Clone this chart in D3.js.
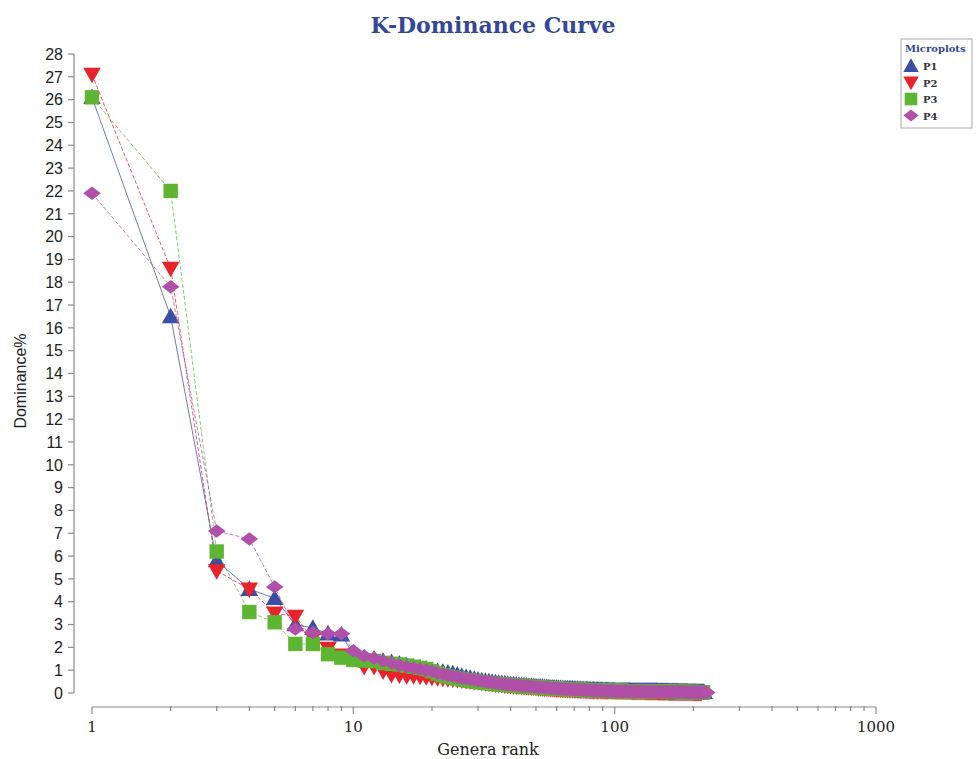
<!DOCTYPE html>
<html>
<head>
<meta charset="utf-8">
<script src="https://cdn.jsdelivr.net/npm/d3@7"></script>
<style>
	body { margin: 0; background: #fff; }
</style>
</head>
<body>
<div id="chart"></div>
<script>
// Dominance% per genus rank (rank = index + 1)
const p1Values = [
	26.1, 16.5, 5.8, 4.55, 4.15, 3.0, 2.85, 2.6, 2.55, 1.7,
	1.55, 1.5, 1.4, 1.35, 1.28, 1.2, 1.15, 1.1, 1.05, 1.0,
	0.95, 0.92, 0.88, 0.85, 0.8, 0.74, 0.69, 0.65, 0.61, 0.58,
	0.55, 0.52, 0.5, 0.48, 0.46, 0.44, 0.42, 0.41, 0.39, 0.38,
	0.37, 0.36, 0.35, 0.34, 0.33, 0.32, 0.31, 0.3, 0.29, 0.28,
	0.27, 0.27, 0.26, 0.25, 0.25, 0.24, 0.23, 0.23, 0.22, 0.22,
	0.21, 0.21, 0.2, 0.2, 0.19, 0.19, 0.18, 0.18, 0.18, 0.17,
	0.17, 0.17, 0.16, 0.16, 0.16, 0.15, 0.15, 0.15, 0.15, 0.14,
	0.14, 0.14, 0.14, 0.13, 0.13, 0.13, 0.13, 0.13, 0.12, 0.12,
	0.12, 0.12, 0.12, 0.12, 0.12, 0.11, 0.11, 0.11, 0.11, 0.11,
	0.1, 0.1, 0.1, 0.1, 0.1, 0.1, 0.1, 0.1, 0.1, 0.1, 0.1, 0.1, 0.1, 0.1, 0.1,
	0.09, 0.09, 0.09, 0.09, 0.09, 0.09, 0.09, 0.09, 0.09, 0.09, 0.09, 0.09, 0.09, 0.09, 0.09,
	0.08, 0.08, 0.08, 0.08, 0.08, 0.08, 0.08, 0.08, 0.08, 0.08, 0.08, 0.08, 0.08, 0.08, 0.08,
	0.07, 0.07, 0.07, 0.07, 0.07, 0.07, 0.07, 0.07, 0.07, 0.07, 0.07, 0.07, 0.07, 0.07, 0.07,
	0.06, 0.06, 0.06, 0.06, 0.06, 0.06, 0.06, 0.06, 0.06, 0.06, 0.06, 0.06, 0.06, 0.06, 0.06,
	0.05, 0.05, 0.05, 0.05, 0.05, 0.05, 0.05, 0.05, 0.05, 0.05, 0.05, 0.05, 0.05, 0.05, 0.05,
	0.04, 0.04, 0.04, 0.04, 0.04, 0.04, 0.04, 0.04, 0.04, 0.04, 0.04, 0.04, 0.04, 0.04, 0.04,
	0.03, 0.03, 0.03, 0.03, 0.03, 0.03, 0.03, 0.03, 0.03, 0.03, 0.03, 0.03, 0.03, 0.03, 0.03
];

const p2Values = [
	27.1, 18.6, 5.35, 4.55, 3.5, 3.35, 2.4, 1.95, 1.65, 1.5,
	1.15, 1.15, 0.95, 0.8, 0.78, 0.75, 0.75, 0.72, 0.7, 0.68,
	0.66, 0.64, 0.62, 0.6, 0.58, 0.56, 0.54, 0.52, 0.5, 0.48,
	0.46, 0.44, 0.42, 0.4, 0.38, 0.37, 0.36, 0.34, 0.33, 0.32,
	0.31, 0.3, 0.29, 0.28, 0.27, 0.26, 0.25, 0.24, 0.24, 0.23,
	0.22, 0.22, 0.21, 0.2, 0.2, 0.19, 0.19, 0.18, 0.18, 0.17,
	0.17, 0.16, 0.16, 0.15, 0.15, 0.15, 0.14, 0.14, 0.14, 0.13,
	0.13, 0.13, 0.12, 0.12, 0.12, 0.12, 0.11, 0.11, 0.11, 0.11,
	0.1, 0.1, 0.1, 0.1, 0.1, 0.1, 0.1, 0.1, 0.1, 0.1,
	0.09, 0.09, 0.09, 0.09, 0.09, 0.09, 0.09, 0.09, 0.09, 0.09,
	0.08, 0.08, 0.08, 0.08, 0.08, 0.08, 0.08, 0.08, 0.08, 0.08, 0.08, 0.08, 0.08, 0.08, 0.08,
	0.07, 0.07, 0.07, 0.07, 0.07, 0.07, 0.07, 0.07, 0.07, 0.07, 0.07, 0.07, 0.07, 0.07, 0.07,
	0.06, 0.06, 0.06, 0.06, 0.06, 0.06, 0.06, 0.06, 0.06, 0.06, 0.06, 0.06, 0.06, 0.06, 0.06,
	0.05, 0.05, 0.05, 0.05, 0.05, 0.05, 0.05, 0.05, 0.05, 0.05, 0.05, 0.05, 0.05, 0.05, 0.05,
	0.04, 0.04, 0.04, 0.04, 0.04, 0.04, 0.04, 0.04, 0.04, 0.04, 0.04, 0.04, 0.04, 0.04, 0.04, 0.04, 0.04, 0.04, 0.04, 0.04,
	0.03, 0.03, 0.03, 0.03, 0.03, 0.03, 0.03, 0.03, 0.03, 0.03, 0.03, 0.03, 0.03, 0.03, 0.03, 0.03, 0.03, 0.03, 0.03, 0.03,
	0.02, 0.02, 0.02, 0.02, 0.02, 0.02, 0.02, 0.02, 0.02, 0.02, 0.02, 0.02, 0.02, 0.02, 0.02
];

const p3Values = [
	26.1, 22.0, 6.2, 3.55, 3.1, 2.15, 2.15, 1.7, 1.55, 1.45,
	1.42, 1.4, 1.32, 1.28, 1.25, 1.2, 1.15, 1.1, 1.05, 0.95,
	0.85, 0.78, 0.72, 0.68, 0.64, 0.6, 0.57, 0.54, 0.51, 0.49,
	0.47, 0.45, 0.43, 0.41, 0.4, 0.38, 0.37, 0.36, 0.35, 0.34,
	0.33, 0.32, 0.31, 0.3, 0.29, 0.28, 0.27, 0.26, 0.26, 0.25,
	0.24, 0.24, 0.23, 0.22, 0.22, 0.21, 0.21, 0.2, 0.2, 0.19,
	0.19, 0.18, 0.18, 0.17, 0.17, 0.16, 0.16, 0.16, 0.15, 0.15,
	0.15, 0.14, 0.14, 0.14, 0.13, 0.13, 0.13, 0.13, 0.12, 0.12,
	0.12, 0.12, 0.11, 0.11, 0.11, 0.11, 0.11, 0.1, 0.1, 0.1,
	0.1, 0.1, 0.1,
	0.09, 0.09, 0.09, 0.09, 0.09, 0.09, 0.09, 0.09, 0.09, 0.09, 0.09, 0.09, 0.09, 0.09, 0.09,
	0.08, 0.08, 0.08, 0.08, 0.08, 0.08, 0.08, 0.08, 0.08, 0.08, 0.08, 0.08, 0.08, 0.08, 0.08,
	0.07, 0.07, 0.07, 0.07, 0.07, 0.07, 0.07, 0.07, 0.07, 0.07, 0.07, 0.07, 0.07, 0.07, 0.07,
	0.06, 0.06, 0.06, 0.06, 0.06, 0.06, 0.06, 0.06, 0.06, 0.06, 0.06, 0.06, 0.06, 0.06, 0.06, 0.06, 0.06, 0.06, 0.06, 0.06,
	0.05, 0.05, 0.05, 0.05, 0.05, 0.05, 0.05, 0.05, 0.05, 0.05, 0.05, 0.05, 0.05, 0.05, 0.05, 0.05, 0.05, 0.05, 0.05, 0.05,
	0.04, 0.04, 0.04, 0.04, 0.04, 0.04, 0.04, 0.04, 0.04, 0.04, 0.04, 0.04, 0.04, 0.04, 0.04, 0.04, 0.04, 0.04, 0.04, 0.04,
	0.03, 0.03, 0.03, 0.03, 0.03, 0.03, 0.03, 0.03, 0.03, 0.03, 0.03, 0.03, 0.03, 0.03, 0.03, 0.03, 0.03, 0.03, 0.03, 0.03
];

const p4Values = [
	21.9, 17.8, 7.1, 6.75, 4.65, 2.8, 2.65, 2.6, 2.6, 1.85,
	1.62, 1.52, 1.4, 1.32, 1.22, 1.15, 1.1, 1.05, 1.0, 0.95,
	0.88, 0.82, 0.78, 0.74, 0.7, 0.66, 0.63, 0.6, 0.57, 0.55,
	0.52, 0.5, 0.48, 0.46, 0.44, 0.42, 0.4, 0.39, 0.37, 0.36,
	0.35, 0.34, 0.33, 0.32, 0.31, 0.3, 0.29, 0.28, 0.27, 0.26,
	0.25, 0.25, 0.24, 0.23, 0.23, 0.22, 0.21, 0.21, 0.2, 0.2,
	0.19, 0.19, 0.18, 0.18, 0.17, 0.17, 0.16, 0.16, 0.15, 0.15,
	0.15, 0.14, 0.14, 0.14, 0.13, 0.13, 0.13, 0.12, 0.12, 0.12,
	0.12, 0.11, 0.11, 0.11, 0.11, 0.1, 0.1, 0.1, 0.1, 0.1,
	0.09, 0.09, 0.09, 0.09, 0.09, 0.09, 0.09, 0.09, 0.09, 0.09,
	0.08, 0.08, 0.08, 0.08, 0.08, 0.08, 0.08, 0.08, 0.08, 0.08, 0.08, 0.08, 0.08, 0.08, 0.08,
	0.07, 0.07, 0.07, 0.07, 0.07, 0.07, 0.07, 0.07, 0.07, 0.07, 0.07, 0.07, 0.07, 0.07, 0.07,
	0.06, 0.06, 0.06, 0.06, 0.06, 0.06, 0.06, 0.06, 0.06, 0.06, 0.06, 0.06, 0.06, 0.06, 0.06,
	0.05, 0.05, 0.05, 0.05, 0.05, 0.05, 0.05, 0.05, 0.05, 0.05, 0.05, 0.05, 0.05, 0.05, 0.05, 0.05, 0.05, 0.05, 0.05, 0.05,
	0.04, 0.04, 0.04, 0.04, 0.04, 0.04, 0.04, 0.04, 0.04, 0.04, 0.04, 0.04, 0.04, 0.04, 0.04, 0.04, 0.04, 0.04, 0.04, 0.04,
	0.03, 0.03, 0.03, 0.03, 0.03, 0.03, 0.03, 0.03, 0.03, 0.03, 0.03, 0.03, 0.03, 0.03, 0.03, 0.03, 0.03, 0.03, 0.03, 0.03,
	0.02, 0.02, 0.02, 0.02, 0.02, 0.02, 0.02, 0.02, 0.02, 0.02, 0.02, 0.02, 0.02, 0.02, 0.02, 0.02, 0.02, 0.02, 0.02, 0.02
];

const seriesNames = ['P1', 'P2', 'P3', 'P4'];
const seriesColors = ['#3b4ea6', '#e8232b', '#5db531', '#b050a8'];
const yTicks = d3.range(0, 29);
const xTicks = [1, 10, 100, 1000];

const width = 976;
const height = 759;

const series = [p1Values, p2Values, p3Values, p4Values].map((vals, i) => ({
	name: seriesNames[i],
	color: seriesColors[i],
	points: vals.map((v, j) => ({ rank: j + 1, value: v }))
}));

const x = d3.scaleLog().domain([1, 1000]).range([92, 876]);
const y = d3.scaleLinear().domain([0, 28]).range([693, 54]);

const svg = d3
	.select('#chart')
	.append('svg')
	.attr('width', width)
	.attr('height', height);

// marker shapes per series
function markerPath(name, s) {
	if (name === 'P1') return `M0,${-s * 0.55}L${s * 0.55},${s * 0.42}L${-s * 0.55},${s * 0.42}Z`;
	if (name === 'P2') return `M0,${s * 0.55}L${s * 0.55},${-s * 0.42}L${-s * 0.55},${-s * 0.42}Z`;
	if (name === 'P3') return `M${-s * 0.45},${-s * 0.45}H${s * 0.45}V${s * 0.45}H${-s * 0.45}Z`;
	return `M0,${-s * 0.42}L${s * 0.55},0L0,${s * 0.42}L${-s * 0.55},0Z`;
}

// title
svg.append('text')
	.attr('x', 493)
	.attr('y', 33)
	.attr('text-anchor', 'middle')
	.style('font-family', '"DejaVu Serif", serif')
	.style('font-size', '22px')
	.style('font-weight', 'bold')
	.style('fill', '#34479a')
	.text('K-Dominance Curve');

// y axis
const yAxis = svg.append('g').attr('transform', 'translate(74,0)');
yAxis.append('line')
	.attr('y1', y(28)).attr('y2', y(0))
	.attr('stroke', '#8a8a8a').attr('stroke-width', 1.2);
yAxis.selectAll('.yt')
	.data(yTicks)
	.enter()
	.append('line')
	.attr('x1', -6).attr('x2', 0)
	.attr('y1', (d) => y(d)).attr('y2', (d) => y(d))
	.attr('stroke', '#8a8a8a').attr('stroke-width', 1.2);
yAxis.selectAll('.yl')
	.data(yTicks)
	.enter()
	.append('text')
	.attr('x', -11)
	.attr('y', (d) => y(d))
	.attr('dy', '0.36em')
	.attr('text-anchor', 'end')
	.style('font-family', '"Liberation Sans", Arial, sans-serif')
	.style('font-size', '16px')
	.style('fill', '#222')
	.text((d) => d);

svg.append('text')
	.attr('transform', 'translate(26,381) rotate(-90)')
	.attr('text-anchor', 'middle')
	.style('font-family', '"Liberation Sans", Arial, sans-serif')
	.style('font-size', '16px')
	.style('fill', '#222')
	.text('Dominance%');

// x axis (log)
const xAxis = svg.append('g').attr('transform', 'translate(0,707)');
xAxis.append('line')
	.attr('x1', x(1)).attr('x2', x(1000))
	.attr('stroke', '#8a8a8a').attr('stroke-width', 1.2);
const minorTicks = x.ticks().filter((d) => !xTicks.includes(d));
xAxis.selectAll('.xm')
	.data(minorTicks)
	.enter()
	.append('line')
	.attr('x1', (d) => x(d)).attr('x2', (d) => x(d))
	.attr('y1', -1).attr('y2', 4)
	.attr('stroke', '#8a8a8a').attr('stroke-width', 1.2);
xAxis.selectAll('.xt')
	.data(xTicks)
	.enter()
	.append('line')
	.attr('x1', (d) => x(d)).attr('x2', (d) => x(d))
	.attr('y1', 0).attr('y2', 7)
	.attr('stroke', '#8a8a8a').attr('stroke-width', 1.2);
xAxis.selectAll('.xl')
	.data(xTicks)
	.enter()
	.append('text')
	.attr('x', (d) => x(d))
	.attr('y', 25)
	.attr('text-anchor', 'middle')
	.style('font-family', '"DejaVu Serif", serif')
	.style('font-size', '15px')
	.style('fill', '#222')
	.text((d) => d);

svg.append('text')
	.attr('x', 488)
	.attr('y', 755)
	.attr('text-anchor', 'middle')
	.style('font-family', '"DejaVu Serif", serif')
	.style('font-size', '16px')
	.style('fill', '#222')
	.text('Genera rank');

// series lines and markers
const line = d3.line().x((d) => x(d.rank)).y((d) => y(d.value));

series.forEach((s) => {
	const g = svg.append('g');
	g.append('path')
		.datum(s.points)
		.attr('d', line)
		.attr('fill', 'none')
		.attr('stroke', s.color)
		.attr('stroke-width', 1)
		.attr('stroke-opacity', 0.75)
		.attr('stroke-dasharray', s.name === 'P1' ? null : '4,2');
	g.selectAll('path.m')
		.data(s.points)
		.enter()
		.append('path')
		.attr('class', 'm')
		.attr('transform', (d) => `translate(${x(d.rank)},${y(d.value)})`)
		.attr('d', markerPath(s.name, 16))
		.attr('fill', s.color);
});

// legend
const legend = svg.append('g').attr('transform', 'translate(901,39)');
legend.append('rect')
	.attr('width', 71).attr('height', 89)
	.attr('fill', '#fff')
	.attr('stroke', '#aaa').attr('stroke-width', 1);
legend.append('text')
	.attr('x', 4).attr('y', 13)
	.style('font-family', '"DejaVu Serif", serif')
	.style('font-size', '10px')
	.style('font-weight', 'bold')
	.style('fill', '#34479a')
	.text('Microplots');
series.forEach((s, i) => {
	const row = legend.append('g').attr('transform', `translate(10,${27 + i * 16.5})`);
	row.append('path').attr('d', markerPath(s.name, 14)).attr('fill', s.color);
	row.append('text')
		.attr('x', 12).attr('y', 4)
		.style('font-family', '"DejaVu Serif", serif')
		.style('font-size', '10px')
		.style('font-weight', 'bold')
		.style('fill', '#333')
		.text(s.name);
});
</script>
</body>
</html>
